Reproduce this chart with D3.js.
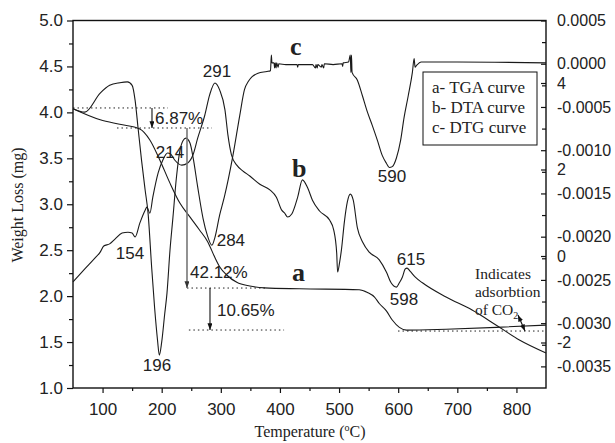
<!DOCTYPE html>
<html lang="en">
<head>
<meta charset="utf-8" />
<title>TGA / DTA / DTG curves</title>
<script src="https://cdn.jsdelivr.net/npm/d3@7"></script>
<style>
  body { margin: 0; background: #fff; }
  svg text { fill: #222; }
  .num { font-family: "Liberation Sans", Arial, sans-serif; font-size: 17px; }
  .serif { font-family: "Liberation Serif", "Times New Roman", serif; }
</style>
</head>
<body>
<svg id="chart" width="615" height="443"></svg>
<script>
// TGA curve a: [temperature C, weight mg] (left axis)
var tga = [[50,4.04],[96,3.92],[129,3.87],[163,3.82],[180,3.70],[197,3.48],[214,3.23],[231,3.01],
  [248,2.86],[264,2.72],[278,2.59],[290,2.42],[298,2.32],[310,2.23],[327,2.15],[349,2.11],[374,2.09],
  [433,2.08],[534,2.07],[548,2.04],[560,1.99],[568,1.92],[580,1.84],[590,1.74],[602,1.66],[614,1.63],
  [681,1.64],[766,1.66],[850,1.685]];

// DTA curve b: [temperature C, DTA signal] (inner right axis)
var dta = [[50,-0.60],[70,-0.30],[87,-0.05],[96,0.09],[102,0.23],[112,0.28],[121,0.39],[133,0.53],
  [143,0.55],[150,0.53],[155,0.44],[163,0.76],[172,1.06],[175,1.13],[180,0.99],[185,1.36],[194,1.92],
  [202,2.22],[210,2.38],[215,2.36],[222,2.22],[234,2.10],[244,2.15],[253,2.34],[261,2.73],[273,3.26],
  [281,3.72],[290,4.00],[298,3.84],[307,3.38],[312,2.80],[318,2.34],[327,2.10],[337,1.97],[349,1.85],
  [366,1.66],[383,1.53],[394,1.36],[403,1.06],[408,0.99],[413,0.90],[420,0.97],[430,1.36],[438,1.76],
  [447,1.57],[455,1.29],[467,1.04],[484,0.83],[491,0.60],[496,0.07],[497.5,-0.37],[501,-0.14],[504,0.14],
  [509,0.79],[514,1.25],[519,1.43],[524,1.29],[531,0.65],[540,0.32],[551,0.09],[568,-0.09],[580,-0.37],
  [588,-0.62],[597,-0.72],[602,-0.62],[607,-0.49],[612,-0.30],[615,-0.28],[620,-0.35],[629,-0.49],
  [641,-0.62],[681,-0.95],[725,-1.25],[766,-1.60],[805,-1.94],[850,-2.24]];

// DTG curve c: [temperature C, DTG signal] (right axis)
var dtg = [[50,-0.00052],[70,-0.00056],[96,-0.00034],[112,-0.00025],[129,-0.00022],[142,-0.00021],
  [150,-0.00025],[155,-0.00042],[160,-0.00074],[166,-0.00112],[172,-0.00146],[177,-0.00173],
  [183,-0.00235],[188,-0.00282],[193,-0.0032],[196,-0.00337],[200,-0.00322],[205,-0.0029],
  [209,-0.00265],[214,-0.00216],[219,-0.00178],[225,-0.00131],[231,-0.001],[236,-0.00089],
  [241,-0.00086],[248,-0.00092],[253,-0.00108],[261,-0.00143],[270,-0.00179],[277,-0.00198],
  [285,-0.0021],[290,-0.00201],[298,-0.00175],[306,-0.00154],[320,-0.00108],[332,-0.00060],
  [340,-0.00030],[347,-0.00020],[353,-0.00015],[363,-0.00011],[378,-0.00009],[384,-0.00008],
  [385.5,0.0001],[386.5,0.00001],[390,0.00001],[391,-0.00005],[392,0.00001],[393.5,-0.00005],
  [394.5,0.00001],[397,-0.00004],[398,0.0],[410,-0.00001],[429,-0.00001],[430,-0.00004],[431,-0.00001],
  [455,-0.00001],[460,-0.00005],[461,-0.00001],[463,-0.00005],[464,-0.00001],[470,-0.00004],
  [471,-0.00001],[474,-0.00005],[475,0.0],[490,-0.00001],[505,0.0],[506,-0.00003],[507,0.00001],
  [516,0.00002],[519,0.0001],[520,-0.0001],[521,0.0001],[522,-0.0001],[531,-0.00019],[539.5,-0.00037],
  [548,-0.00056],[556,-0.00071],[565,-0.00089],[573,-0.00106],[580,-0.00115],[585,-0.0012],
  [590,-0.00119],[597,-0.00109],[604,-0.00089],[610,-0.00062],[617,-0.00037],[624,-0.0001],
  [627,0.00006],[628.5,-0.00004],[631,-0.00002],[639,0.00002],[700,0.00002],[850,0.00001]];

// axis ticks
var xTicks = [100, 200, 300, 400, 500, 600, 700, 800];
var xMinor = [150, 250, 350, 450, 550, 650, 750];
var yTicks = [1.0, 1.5, 2.0, 2.5, 3.0, 3.5, 4.0, 4.5, 5.0];
var yMinor = [1.25, 1.75, 2.25, 2.75, 3.25, 3.75, 4.25, 4.75];
var dtgTicks = [0.0005, 0, -0.0005, -0.001, -0.0015, -0.002, -0.0025, -0.003, -0.0035];
var dtgMinor = [0.00025, -0.00025, -0.00075, -0.00125, -0.00175, -0.00225, -0.00275, -0.00325];
var dtaTicks = [4, 2, 0, -2];

// peak labels [text, temperature, weight-axis value]
var peakLabels = [["291",293.6,4.385],["214",214,3.50],["154",146.4,2.40],["196",192,1.185],
  ["284",317,2.545],["590",589.5,3.24],["615",621.7,2.34],["598",609.8,1.90]];
var stepLabels = [["6.87%",188.7,3.873],["42.12%",247.9,2.197],["10.65%",293.6,1.784]];
var curveNames = [["c",417,4.62],["b",420.4,3.30],["a",420.4,2.16]];
var legendItems = ["a- TGA curve", "b- DTA curve", "c- DTG curve"];
// dotted level lines [t0, t1, weight]
var levels = [[50,210.7,4.048],[124.4,285,3.83],[242.8,374.7,2.088],[246,407,1.631],[599.7,850,1.62]];
// arrows [t, from, to, colour]
var steps = [[183.6,4.048,3.83,"#111"],[242.8,3.83,2.088,"#777"],[281.7,2.088,1.631,"#111"]];
var coNote = ["Indicates", "adsorbtion", "of CO"];

var svg = d3.select("#chart");
var m = {l: 73, r: 546, t: 20.5, b: 388};

var x = d3.scaleLinear().domain([50, 850]).range([m.l, m.r]);
var y = d3.scaleLinear().domain([1, 5]).range([m.b, m.t]);
var yDtg = d3.scaleLinear().domain([-0.00375, 0.0005]).range([m.b, m.t]);
var yDta = d3.scaleLinear().domain([-3.052, 5.445]).range([m.b, m.t]);

var defs = svg.append("defs");
["#111", "#777"].forEach(function (c, i) {
  defs.append("marker").attr("id", "ah" + i)
    .attr("viewBox", "0 0 8 6").attr("refX", 8).attr("refY", 3)
    .attr("markerWidth", 7).attr("markerHeight", 5).attr("orient", "auto-start-reverse")
    .attr("markerUnits", "userSpaceOnUse")
    .append("path").attr("d", "M0,0 L8,3 L0,6 Z").attr("fill", c === "#777" ? "#333" : c);
});

function styleAxis(g, size) {
  g.select(".domain").remove();
  g.selectAll("line").attr("stroke", "#111").attr("stroke-width", 1.2);
  g.selectAll("text").attr("font-family", "Liberation Sans, Arial, sans-serif")
    .attr("font-size", size).attr("fill", "#222");
}

// axes
svg.append("g").attr("transform", "translate(" + m.l + ",0)")
  .call(d3.axisLeft(y).tickValues(yTicks).tickSize(6).tickPadding(4).tickFormat(d3.format(".1f")))
  .call(styleAxis, 17);
svg.append("g").attr("transform", "translate(" + m.l + ",0)")
  .call(d3.axisLeft(y).tickValues(yMinor).tickSize(4).tickFormat(""))
  .call(styleAxis, 17);
svg.append("g").attr("transform", "translate(0," + m.b + ")")
  .call(d3.axisBottom(x).tickValues(xTicks).tickSize(5).tickPadding(10))
  .call(styleAxis, 17);
svg.append("g").attr("transform", "translate(0," + m.b + ")")
  .call(d3.axisBottom(x).tickValues(xMinor).tickSize(3).tickFormat(""))
  .call(styleAxis, 17);
svg.append("g").attr("transform", "translate(" + m.r + ",0)")
  .call(d3.axisRight(yDtg).tickValues(dtgTicks).tickSize(-5).tickPadding(11)
    .tickFormat(function (d) { return Math.abs(d) < 1e-9 ? "0.0000" : d.toFixed(4); }))
  .call(styleAxis, 16);
svg.append("g").attr("transform", "translate(" + m.r + ",0)")
  .call(d3.axisRight(yDtg).tickValues(dtgMinor).tickSize(-4).tickFormat(""))
  .call(styleAxis, 16);
svg.append("g").attr("transform", "translate(" + m.r + ",0)")
  .call(d3.axisRight(yDta).tickValues(dtaTicks).tickSize(-5).tickPadding(11).tickFormat(d3.format("d")))
  .call(styleAxis, 16)
  .call(function (g) { g.selectAll("text").text(function (d) { return String(d); }); });

// frame
svg.append("rect").attr("x", m.l).attr("y", m.t).attr("width", m.r - m.l).attr("height", m.b - m.t)
  .attr("fill", "none").attr("stroke", "#111").attr("stroke-width", 1.4);

// dotted level lines
svg.selectAll(".lvl").data(levels).enter().append("line")
  .attr("x1", function (d) { return x(d[0]); }).attr("x2", function (d) { return x(d[1]); })
  .attr("y1", function (d) { return y(d[2]); }).attr("y2", function (d) { return y(d[2]); })
  .attr("stroke", "#222").attr("stroke-width", 1).attr("stroke-dasharray", "1.5,3");

// curves
var curves = [
  {data: tga, ys: y},
  {data: dta, ys: yDta},
  {data: dtg, ys: yDtg}
];
curves.forEach(function (c) {
  var line = d3.line()
    .x(function (d) { return x(d[0]); })
    .y(function (d) { return c.ys(d[1]); })
    .curve(d3.curveMonotoneX);
  svg.append("path").datum(c.data).attr("d", line)
    .attr("fill", "none").attr("stroke", "#1a1a1a").attr("stroke-width", 1.1);
});

// step arrows
svg.selectAll(".step").data(steps).enter().append("line")
  .attr("x1", function (d) { return x(d[0]); }).attr("x2", function (d) { return x(d[0]); })
  .attr("y1", function (d) { return y(d[1]); }).attr("y2", function (d) { return y(d[2]); })
  .attr("stroke", function (d) { return d[3]; })
  .attr("stroke-width", function (d) { return d[3] === "#777" ? 1.6 : 1.1; })
  .attr("marker-end", function (d) { return d[3] === "#777" ? "url(#ah1)" : "url(#ah0)"; });

// CO2 double arrow
svg.append("line")
  .attr("x1", x(802.6)).attr("y1", y(1.795)).attr("x2", x(814.5)).attr("y2", y(1.62))
  .attr("stroke", "#111").attr("stroke-width", 1.1)
  .attr("marker-start", "url(#ah0)").attr("marker-end", "url(#ah0)");

// text labels
svg.selectAll(".peak").data(peakLabels).enter().append("text").attr("class", "num")
  .attr("x", function (d) { return x(d[1]); }).attr("y", function (d) { return y(d[2]); })
  .attr("text-anchor", "middle").text(function (d) { return d[0]; });
svg.selectAll(".stepl").data(stepLabels).enter().append("text").attr("class", "num")
  .attr("x", function (d) { return x(d[1]); }).attr("y", function (d) { return y(d[2]); })
  .text(function (d) { return d[0]; });
svg.selectAll(".cname").data(curveNames).enter().append("text").attr("class", "serif")
  .attr("x", function (d) { return x(d[1]); }).attr("y", function (d) { return y(d[2]); })
  .attr("font-size", 26).attr("font-weight", "bold").text(function (d) { return d[0]; });

var note = svg.append("g").attr("class", "serif").attr("font-size", 15.5);
coNote.forEach(function (t, i) {
  var tx = note.append("text").attr("x", x(729.9)).attr("y", y(2.186) + i * 18).text(t);
  if (i === 2) tx.append("tspan").attr("font-size", 10).attr("dy", 4).text("2");
});

// legend
var lg = svg.append("g").attr("class", "serif");
lg.append("rect").attr("x", 423).attr("y", 72).attr("width", 114).attr("height", 73)
  .attr("fill", "#fff").attr("stroke", "#111").attr("stroke-width", 1);
lg.selectAll("text").data(legendItems).enter().append("text")
  .attr("x", 432).attr("y", function (d, i) { return 93 + i * 20; })
  .attr("font-size", 17).text(function (d) { return d; });

// axis titles
svg.append("text").attr("class", "serif").attr("font-size", 16)
  .attr("transform", "translate(23,205) rotate(-90)").attr("text-anchor", "middle")
  .text("Weight Loss (mg)");
var xt = svg.append("text").attr("class", "serif").attr("font-size", 16)
  .attr("x", 310).attr("y", 437).attr("text-anchor", "middle");
xt.append("tspan").text("Temperature (");
xt.append("tspan").attr("font-size", 10).attr("dy", -6).text("o");
xt.append("tspan").attr("dy", 6).text("C)");
</script>
</body>
</html>
